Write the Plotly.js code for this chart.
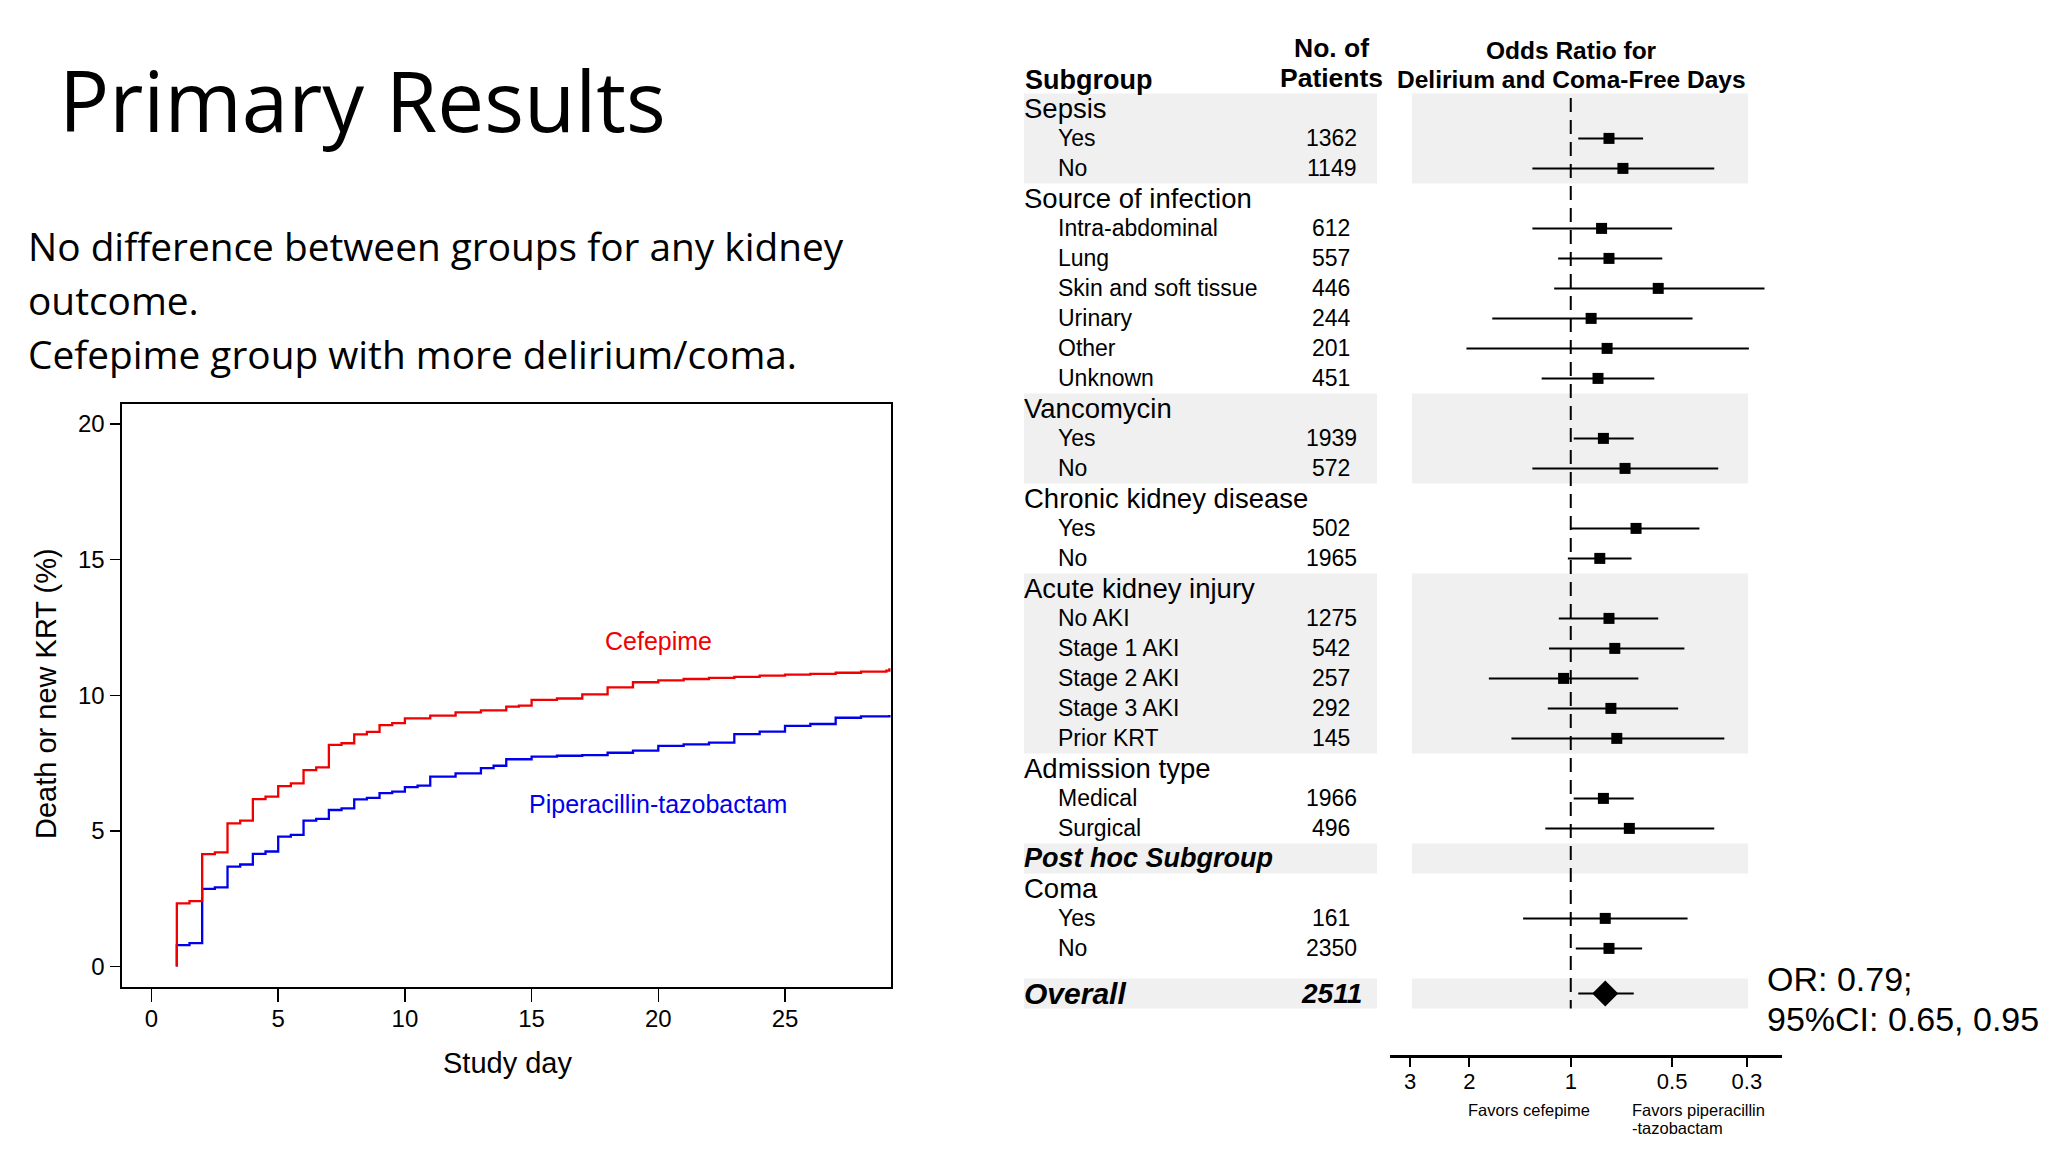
<!DOCTYPE html>
<html><head><meta charset="utf-8">
<script src="https://cdn.plot.ly/plotly-3.0.1.min.js"></script>
<style>html,body{margin:0;padding:0;background:#fff}#chart{width:2048px;height:1152px}</style>
</head><body><div id="chart"></div>
<script>
// ---------- Kaplan-Meier style cumulative incidence (Death or new KRT, %) ----------
const cefDay = [1,1,1.5,2,2.5,3,3.5,4,4.5,5,5.5,6,6.5,7,7.5,8,8.5,9,9.5,10,11,12,13,14,14.5,15,16,17,18,19,20,21,22,23,24,25,26,27,28,29,29.12];
const cefPct = [0,2.33,2.41,4.14,4.21,5.28,5.38,6.17,6.26,6.65,6.75,7.24,7.34,8.17,8.23,8.56,8.65,8.9,8.97,9.15,9.25,9.37,9.44,9.58,9.62,9.83,9.88,10.03,10.29,10.48,10.55,10.6,10.64,10.68,10.72,10.76,10.79,10.83,10.87,10.91,11.0];
const ptzDay = [1,1,1.5,2,2.5,3,3.5,4,4.5,5,5.5,6,6.5,7,7.5,8,8.5,9,9.5,10,10.5,11,12,13,13.5,14,15,16,17,18,19,20,21,22,23,24,25,26,27,28,29.12];
const ptzPct = [0,0.79,0.86,2.86,2.92,3.68,3.76,4.15,4.24,4.79,4.85,5.38,5.44,5.77,5.83,6.16,6.22,6.39,6.45,6.61,6.67,7.0,7.12,7.31,7.4,7.64,7.74,7.77,7.79,7.88,7.96,8.13,8.19,8.25,8.57,8.66,8.87,8.94,9.17,9.22,9.27];
const kmXTicks = [0,5,10,15,20,25];
const kmYTicks = [0,5,10,15,20];

// ---------- Forest plot ----------
const rowLabels = ['Sepsis','Yes','No','Source of infection','Intra-abdominal','Lung','Skin and soft tissue','Urinary','Other','Unknown','Vancomycin','Yes','No','Chronic kidney disease','Yes','No','Acute kidney injury','No AKI','Stage 1 AKI','Stage 2 AKI','Stage 3 AKI','Prior KRT','Admission type','Medical','Surgical','Post hoc Subgroup','Coma','Yes','No','Overall'];
const rowKind = ['group','item','item','group','item','item','item','item','item','item','group','item','item','group','item','item','group','item','item','item','item','item','group','item','item','posthoc','group','item','item','overall'];
const patients = [null,1362,1149,null,612,557,446,244,201,451,null,1939,572,null,502,1965,null,1275,542,257,292,145,null,1966,496,null,null,161,2350,2511];
const oddsRatio = [null,0.77,0.70,null,0.81,0.77,0.55,0.87,0.78,0.83,null,0.80,0.69,null,0.64,0.82,null,0.77,0.74,1.05,0.76,0.73,null,0.80,0.67,null,null,0.79,0.77,0.79];
const ciLow  = [null,0.61,0.375,null,0.50,0.535,0.266,0.435,0.296,0.565,null,0.65,0.365,null,0.415,0.66,null,0.55,0.46,0.63,0.48,0.35,null,0.65,0.375,null,null,0.45,0.614,0.65];
const ciHigh = [null,0.95,1.30,null,1.30,1.09,1.12,1.71,2.04,1.22,null,0.98,1.30,null,1.00,1.02,null,1.085,1.16,1.75,1.17,1.50,null,0.98,1.19,null,null,1.385,0.966,0.95];
const shadedGroups = ['Sepsis','Vancomycin','Acute kidney injury','Post hoc Subgroup','Overall'];
const orTicks = [3,2,1,0.5,0.3];
const orTickText = ['3','2','1','0.5','0.3'];

const W = 2048, H = 1152;
const px = v => v / W, py = v => 1 - v / H;
const ARIAL = 'Liberation Sans, Arial, sans-serif';
const SLIDE = 'Open Sans, Lato, sans-serif';
const RED = 'rgb(240,0,0)', BLUE = 'rgb(0,0,235)';

// row positions (overall separated by a half row)
const rowPos = rowLabels.map((_, i) => rowKind[i] === 'overall' ? i + 0.5 : i);

const traces = [];
traces.push({x: ptzDay, y: ptzPct, xaxis: 'x', yaxis: 'y', mode: 'lines', line: {shape: 'hv', color: BLUE, width: 2.3}, showlegend: false});
traces.push({x: cefDay, y: cefPct, xaxis: 'x', yaxis: 'y', mode: 'lines', line: {shape: 'hv', color: RED, width: 2.3}, showlegend: false});

const ciX = [], ciY = [], sqX = [], sqY = [], dmX = [], dmY = [];
rowLabels.forEach((_, i) => {
  if (oddsRatio[i] == null) return;
  ciX.push(ciLow[i], ciHigh[i], null); ciY.push(rowPos[i], rowPos[i], null);
  if (rowKind[i] === 'overall') { dmX.push(oddsRatio[i]); dmY.push(rowPos[i]); }
  else { sqX.push(oddsRatio[i]); sqY.push(rowPos[i]); }
});
traces.push({x: ciX, y: ciY, xaxis: 'x2', yaxis: 'y2', mode: 'lines', line: {color: '#000', width: 2}, showlegend: false, connectgaps: false});
traces.push({x: sqX, y: sqY, xaxis: 'x2', yaxis: 'y2', mode: 'markers', marker: {symbol: 'square', size: 11, color: '#000'}, showlegend: false});
traces.push({x: dmX, y: dmY, xaxis: 'x2', yaxis: 'y2', mode: 'markers', marker: {symbol: 'diamond', size: 20, color: '#000'}, showlegend: false});

// ---------- shapes ----------
const shapes = [];
shadedGroups.forEach(g => {
  const start = rowLabels.indexOf(g);
  let end = start;
  if (rowKind[start] === 'group') { end = start + 1; while (end + 1 < rowLabels.length && rowKind[end + 1] === 'item') end++; }
  const y0 = rowPos[start] - 0.5, y1 = rowPos[end] + 0.5;
  shapes.push({type: 'rect', layer: 'below', xref: 'paper', yref: 'y2', x0: px(1024), x1: px(1377), y0: y0, y1: y1, fillcolor: '#f0f0f0', line: {width: 0}});
  shapes.push({type: 'rect', layer: 'below', xref: 'paper', yref: 'y2', x0: px(1412), x1: px(1748), y0: y0, y1: y1, fillcolor: '#f0f0f0', line: {width: 0}});
});
shapes.push({type: 'line', xref: 'x2', yref: 'y2', x0: 1, x1: 1, y0: -0.35, y1: rowPos[rowPos.length - 1] + 0.5, line: {color: '#000', width: 2, dash: '14px,8px'}});

// ---------- annotations ----------
const ann = [];
const A = (o) => ann.push(Object.assign({showarrow: false, xref: 'paper', yref: 'paper'}, o));
A({x: px(57), y: py(99), xanchor: 'left', yanchor: 'middle', text: 'Primary Results', font: {family: SLIDE, size: 83.5, color: '#000'}});
A({x: px(26), y: py(246), xanchor: 'left', yanchor: 'middle', text: 'No difference between groups for any kidney', font: {family: SLIDE, size: 38.8, color: '#000'}});
A({x: px(26), y: py(300), xanchor: 'left', yanchor: 'middle', text: 'outcome.', font: {family: SLIDE, size: 38.8, color: '#000'}});
A({x: px(26), y: py(354), xanchor: 'left', yanchor: 'middle', text: 'Cefepime group with more delirium/coma.', font: {family: SLIDE, size: 38.8, color: '#000'}});
// KM axis titles and curve labels
A({x: px(46), y: py(694), xanchor: 'center', yanchor: 'middle', textangle: -90, text: 'Death or new KRT (%)', font: {family: ARIAL, size: 29, color: '#000'}});
A({x: px(507), y: py(1063), xanchor: 'center', yanchor: 'middle', text: 'Study day', font: {family: ARIAL, size: 29, color: '#000'}});
A({xref: 'x', yref: 'y', x: 20, y: 12, xanchor: 'center', yanchor: 'middle', text: 'Cefepime', font: {family: ARIAL, size: 25, color: RED}});
A({xref: 'x', yref: 'y', x: 20, y: 6, xanchor: 'center', yanchor: 'middle', text: 'Piperacillin-tazobactam', font: {family: ARIAL, size: 25, color: BLUE}});
// forest headers
A({x: px(1023), y: py(80), xanchor: 'left', yanchor: 'middle', text: '<b>Subgroup</b>', font: {family: ARIAL, size: 27, color: '#000'}});
A({x: px(1331), y: py(48), xanchor: 'center', yanchor: 'middle', text: '<b>No. of</b>', font: {family: ARIAL, size: 26.5, color: '#000'}});
A({x: px(1331), y: py(78), xanchor: 'center', yanchor: 'middle', text: '<b>Patients</b>', font: {family: ARIAL, size: 26.5, color: '#000'}});
A({x: px(1571), y: py(50), xanchor: 'center', yanchor: 'middle', text: '<b>Odds Ratio for</b>', font: {family: ARIAL, size: 24.5, color: '#000'}});
A({x: px(1571), y: py(80), xanchor: 'center', yanchor: 'middle', text: '<b>Delirium and Coma-Free Days</b>', font: {family: ARIAL, size: 24.5, color: '#000'}});
rowLabels.forEach((lab, i) => {
  const k = rowKind[i];
  let text = lab, x = 1022, size = 27.5;
  if (k === 'item') { x = 1056; size = 23; }
  if (k === 'posthoc') { text = '<b><i>' + lab + '</i></b>'; size = 27; }
  if (k === 'overall') { text = '<b><i>' + lab + '</i></b>'; size = 30; }
  A({yref: 'y2', x: px(x), y: rowPos[i], xanchor: 'left', yanchor: 'middle', text: text, font: {family: ARIAL, size: size, color: '#000'}});
  if (patients[i] != null) {
    const t = k === 'overall' ? '<b><i>' + patients[i] + '</i></b>' : String(patients[i]);
    A({yref: 'y2', x: px(1331), y: rowPos[i], xanchor: 'center', yanchor: 'middle', text: t, font: {family: ARIAL, size: k === 'overall' ? 28 : 23, color: '#000'}});
  }
});
A({x: px(1529), y: py(1110), xanchor: 'center', yanchor: 'middle', text: 'Favors cefepime', font: {family: ARIAL, size: 16.5, color: '#000'}});
A({x: px(1630), y: py(1110), xanchor: 'left', yanchor: 'middle', text: 'Favors piperacillin', font: {family: ARIAL, size: 16.5, color: '#000'}});
A({x: px(1630), y: py(1128), xanchor: 'left', yanchor: 'middle', text: '-tazobactam', font: {family: ARIAL, size: 16.5, color: '#000'}});
A({x: px(1765), y: py(979), xanchor: 'left', yanchor: 'middle', text: 'OR: 0.79;', font: {family: ARIAL, size: 34, color: '#000'}});
A({x: px(1765), y: py(1019), xanchor: 'left', yanchor: 'middle', text: '95%CI: 0.65, 0.95', font: {family: ARIAL, size: 34, color: '#000'}});

const layout = {
  width: W, height: H, margin: {l: 0, r: 0, t: 0, b: 0}, paper_bgcolor: '#fff', plot_bgcolor: 'rgba(0,0,0,0)',
  hovermode: false, showlegend: false,
  xaxis: {domain: [px(121.5), px(891)], range: [-1.184, 29.183], anchor: 'y', tickvals: kmXTicks, ticks: 'outside', ticklen: 13, tickwidth: 1.5, tickcolor: '#000', ticklabelstandoff: -4,
          showline: true, mirror: true, linecolor: '#000', linewidth: 2, showgrid: false, zeroline: false, tickfont: {family: ARIAL, size: 24, color: '#000'}},
  yaxis: {domain: [1 - 987 / H, 1 - 403.5 / H], range: [-0.756, 20.756], anchor: 'x', tickvals: kmYTicks, ticks: 'outside', ticklen: 10, tickwidth: 1.5, tickcolor: '#000',
          showline: true, mirror: true, linecolor: '#000', linewidth: 2, showgrid: false, zeroline: false, tickfont: {family: ARIAL, size: 24, color: '#000'}},
  xaxis2: {type: 'log', domain: [px(1390), px(1782)], range: [Math.log10(3.44), Math.log10(0.236)], anchor: 'free', position: 1 - 1056 / H, ticklabelstandoff: -4,
           tickvals: orTicks, ticktext: orTickText, ticks: 'outside', ticklen: 9, tickwidth: 2, tickcolor: '#000', showline: true, linecolor: '#000', linewidth: 2.5,
           showgrid: false, zeroline: false, tickfont: {family: ARIAL, size: 22, color: '#000'}},
  yaxis2: {domain: [0, 1], range: [(H - 108.4) / 30, -108.4 / 30], anchor: 'x2', visible: false, showgrid: false, zeroline: false},
  shapes: shapes, annotations: ann
};
Plotly.newPlot('chart', traces, layout, {staticPlot: true, displayModeBar: false});
</script></body></html>
